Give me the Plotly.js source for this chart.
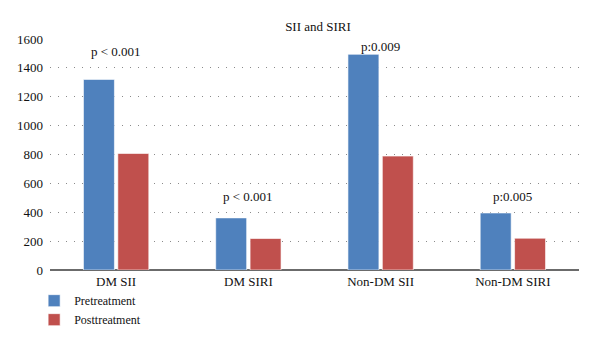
<!DOCTYPE html>
<html>
<head>
<meta charset="utf-8">
<script src="https://cdn.plot.ly/plotly-3.0.1.min.js"></script>
<style>
  html, body { margin: 0; padding: 0; background: #fff; }
  #chart { width: 600px; height: 342px; }
</style>
</head>
<body>
<div id="chart"></div>
<script>
// Groups and measured index values
const categories = ["DM SII", "DM SIRI", "Non-DM SII", "Non-DM SIRI"];
const pretreatment = [1320, 361, 1494, 395];
const posttreatment = [807, 218, 789, 220];
const pLabels = ["p < 0.001", "p < 0.001", "p:0.009", "p:0.005"];
const yTicks = [0, 200, 400, 600, 800, 1000, 1200, 1400, 1600];

const FONT = "'Liberation Serif', 'DejaVu Serif', serif";

// Vertical position (data units) of each p-value label
const labelY = [1510, 510, 1545, 510];

const traces = [
  {
    type: "bar", name: "Pretreatment", x: categories, y: pretreatment,
    marker: { color: "#4F81BD", line: { color: "rgba(255,255,255,0.6)", width: 1 } },
    hoverinfo: "skip"
  },
  {
    type: "bar", name: "Posttreatment", x: categories, y: posttreatment,
    marker: { color: "#C0504D", line: { color: "rgba(255,255,255,0.6)", width: 1 } },
    hoverinfo: "skip"
  }
];

const annotations = categories.map((c, i) => ({
  x: c, y: labelY[i], xref: "x", yref: "y",
  text: pLabels[i], showarrow: false, yanchor: "middle",
  font: { family: FONT, size: 13, color: "#111" }
}));

const layout = {
  width: 600, height: 342,
  margin: { l: 50, r: 21, t: 39, b: 72, autoexpand: false },
  paper_bgcolor: "#fff", plot_bgcolor: "#fff",
  font: { family: FONT, size: 13, color: "#111" },
  title: {
    text: "SII and SIRI", x: 0.53, xanchor: "center",
    y: 1 - 26 / 342, yanchor: "middle",
    font: { family: FONT, size: 13, color: "#111" }
  },
  barmode: "group", bargap: 0.48, bargroupgap: 0.1,
  xaxis: {
    type: "category", showgrid: false, zeroline: false,
    showline: false, ticks: "", ticklabelstandoff: 2,
    tickfont: { family: FONT, size: 13 }
  },
  yaxis: {
    range: [0, 1600], tickvals: yTicks, ticktext: yTicks.map(String),
    showgrid: true, gridcolor: "#8a8a8a", griddash: "1px,7px", gridwidth: 1,
    zeroline: true, zerolinecolor: "#6b6b6b", zerolinewidth: 2,
    showline: false, ticks: "", ticklabelstandoff: 6,
    tickfont: { family: FONT, size: 13 }
  },
  showlegend: true,
  legend: {
    x: -0.03, xanchor: "left", y: -0.07, yanchor: "top",
    orientation: "v", font: { family: FONT, size: 12 },
    itemwidth: 30, tracegroupgap: 0, bgcolor: "rgba(0,0,0,0)"
  },
  annotations: annotations
};

Plotly.newPlot("chart", traces, layout, { displayModeBar: false, staticPlot: true });
</script>
</body>
</html>
